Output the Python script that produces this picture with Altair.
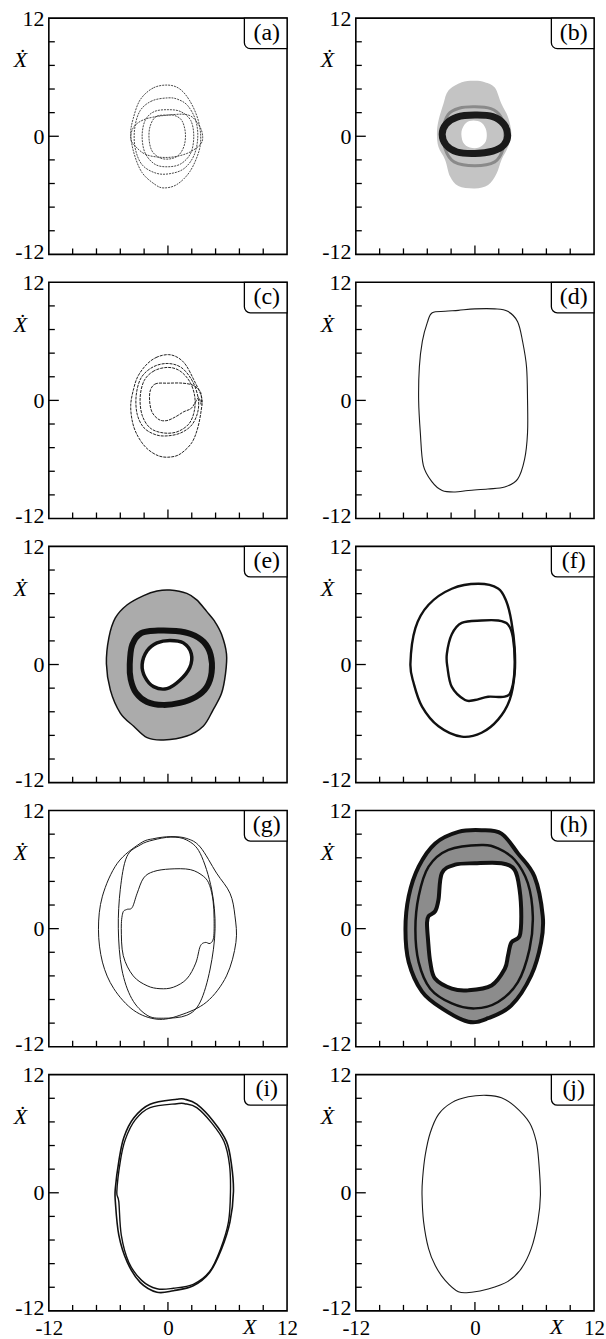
import altair as alt
import pandas as pd

SERIF = "Liberation Serif"
W, H = 239, 237
LIM = [-12, 12]
TICKS = [-9.6, -7.2, -4.8, -2.4, 2.4, 4.8, 7.2, 9.6]
MAJOR_TICKS = [0]
LABEL_VALUES = [-12, 0, 12]
BOX = {"x0": 7.7, "x1": 12, "y0": 8.9, "y1": 12}
LETTERS = ["(a)", "(b)", "(c)", "(d)", "(e)", "(f)", "(g)", "(h)", "(i)", "(j)"]

# ---- phase portraits, (X, Xdot) points along each orbit ----
A_LOOP1 = [(0, 5.2), (-1.5, 4.9), (-2.8, 3.7), (-3.5, 1.8), (-3.75, 0.2), (-3.4, -1.8),
           (-2.6, -3.7), (-1.3, -4.9), (-0.4, -5.25), (0.9, -4.9), (2.2, -3.6), (3.1, -1.6),
           (3.3, 0.0), (3.0, 1.8), (2.2, 3.6), (1.2, 4.8)]
A_LOOP2 = [(0, 3.9), (-1.6, 3.6), (-2.8, 2.6), (-3.35, 0.8), (-3.3, -1.2), (-2.6, -2.9),
           (-1.2, -3.75), (0.2, -3.8), (1.6, -3.3), (2.6, -2.0), (3.0, -0.2), (2.8, 1.6),
           (2.0, 3.1), (1.0, 3.75)]
A_LOOP3 = [(0, 2.7), (-1.4, 2.5), (-2.3, 1.6), (-2.6, 0.0), (-2.3, -1.7), (-1.3, -2.85),
           (0, -3.1), (1.3, -2.8), (2.3, -1.7), (2.6, 0.0), (2.3, 1.6), (1.3, 2.5)]
A_LOOP4 = [(0, 2.15), (-1.2, 2.0), (-1.8, 1.0), (-1.9, -0.3), (-1.6, -1.5), (-0.8, -2.2),
           (0.2, -2.3), (1.1, -1.9), (1.65, -0.9), (1.75, 0.4), (1.4, 1.6), (0.7, 2.1)]
A_LOOP5 = [(-3.75, -0.2), (-3.4, 1.0), (-2.1, 1.8), (0.5, 2.2), (2.2, 2.1), (3.2, 1.0),
           (3.5, -0.1), (3.2, -0.9), (1.9, -1.75), (0, -2.15), (-2.1, -1.9), (-3.3, -1.0)]

B_CLOUD = [(0, 5.65), (1.0, 5.5), (2.0, 4.95), (2.67, 3.3), (3.33, 1.95), (3.67, 0.27),
           (3.33, -1.1), (2.67, -2.4), (2.17, -3.8), (1.33, -4.95), (0, -5.3), (-1.67, -5.05),
           (-2.5, -4.1), (-3.0, -2.4), (-3.67, -1.1), (-3.83, 0.27), (-3.67, 1.6), (-3.17, 3.3),
           (-2.67, 4.65), (-1.33, 5.5)]
B_BAND = [(0, 3.0), (-1.6, 2.85), (-2.7, 2.2), (-3.2, 0.6), (-3.0, -1.3), (-2.1, -2.6),
          (0, -3.0), (2.0, -2.6), (2.8, -1.4), (3.0, 0.4), (2.6, 2.0), (1.6, 2.8)]
B_RING = [(-3.3, 0.2), (-2.9, 1.25), (-1.8, 1.95), (0, 2.15), (1.8, 2.0), (2.9, 1.25),
          (3.3, 0.1), (2.9, -0.9), (1.8, -1.5), (0, -1.75), (-1.8, -1.6), (-2.9, -0.9)]
B_HOLE = [(-0.15, 1.6), (-0.9, 1.35), (-1.35, 0.5), (-1.2, -0.6), (-0.5, -1.15), (0.4, -1.15),
          (1.1, -0.5), (1.15, 0.55), (0.7, 1.35)]

C_LOOP1 = [(0.05, 4.65), (-1.1, 4.4), (-2.1, 3.7), (-3.0, 2.5), (-3.45, 1.2), (-3.75, -0.5),
           (-3.55, -2.3), (-3.0, -3.7), (-2.1, -4.9), (-0.9, -5.65), (0.3, -5.75), (1.3, -5.4),
           (2.4, -4.3), (3.0, -2.8), (3.35, -1.0), (3.4, 0.3), (2.6, 2.1), (1.8, 3.6), (1.0, 4.35)]
C_LOOP2 = [(0, 3.75), (-1.5, 3.4), (-2.7, 2.3), (-3.2, 0.5), (-3.1, -1.4), (-2.4, -2.8),
           (-1.2, -3.5), (0, -3.6), (1.3, -3.3), (2.4, -2.5), (3.0, -1.2), (3.05, 0.2),
           (2.5, 1.9), (1.4, 3.3)]
C_LOOP3 = [(0, 3.35), (-1.4, 3.0), (-2.4, 2.0), (-2.8, 0.3), (-2.6, -1.5), (-1.8, -2.8),
           (-0.5, -3.3), (0.9, -3.2), (2.1, -2.4), (2.65, -1.1), (2.7, 0.4), (2.2, 1.9), (1.2, 3.0)]
C_LOOP4 = [(0, 1.75), (-1.2, 1.7), (-1.75, 1.1), (-1.85, 0.0), (-1.6, -1.2), (-0.9, -1.95),
           (-0.1, -2.05), (0.8, -1.65), (1.6, -1.15), (2.3, -0.85), (2.7, -0.3), (3.1, 0.3),
           (3.35, -0.4), (3.3, 0.8), (2.6, 1.5), (1.5, 1.75)]

D_LOOP = [(-4.3, 8.9), (-3.0, 9.05), (-1.67, 9.15), (0, 9.3), (2.0, 9.3), (3.3, 9.05),
          (4.3, 8.0), (4.8, 6.0), (5.2, 3.4), (5.3, 0.0), (5.3, -3.3), (5.0, -6.0), (4.3, -8.0),
          (3.0, -8.8), (1.3, -9.0), (-0.67, -9.15), (-2.0, -9.3), (-3.3, -9.15), (-4.3, -8.3),
          (-5.2, -6.6), (-5.5, -3.3), (-5.67, 0.0), (-5.6, 3.4), (-5.3, 6.0), (-4.8, 7.9)]

E_CLOUD = [(0.2, 7.57), (1.9, 7.23), (2.9, 6.57), (3.9, 5.4), (4.7, 4.4), (5.4, 3.07),
           (5.9, 1.07), (5.8, -0.93), (5.4, -2.93), (4.55, -4.6), (3.55, -6.27), (1.9, -7.27),
           (-0.45, -7.67), (-2.1, -7.43), (-3.45, -6.27), (-4.8, -4.93), (-5.8, -2.6),
           (-6.2, 0.07), (-5.95, 2.73), (-5.3, 4.73), (-4.1, 6.07), (-2.45, 7.0), (-1.1, 7.47)]
E_RING = [(-3.85, 0.0), (-3.6, 2.0), (-2.7, 3.2), (-1.0, 3.45), (0.8, 3.4), (2.3, 3.1),
          (3.6, 2.3), (4.3, 1.0), (4.4, -0.8), (3.9, -2.3), (2.8, -3.3), (1.2, -3.9),
          (-0.5, -4.1), (-2.1, -3.8), (-3.2, -2.9), (-3.75, -1.5)]
E_HOLE = [(-2.6, 0.0), (-2.1, 1.4), (-1.1, 2.2), (0.2, 2.45), (1.55, 2.2), (2.35, 1.1),
          (2.2, -0.3), (1.2, -1.6), (-0.1, -2.45), (-1.45, -2.25), (-2.3, -1.3)]

F_OUTER = [(0.33, 8.2), (-2.33, 7.7), (-4.67, 6.07), (-6.0, 3.7), (-6.5, 0.07), (-6.17, -1.9),
           (-5.33, -4.27), (-3.67, -6.27), (-1.33, -7.33), (0.67, -6.93), (2.33, -5.6),
           (3.5, -3.6), (4.0, -0.93), (4.0, 1.73), (3.67, 4.4), (3.17, 6.4), (2.33, 7.73)]
F_INNER = [(0.67, 4.47), (-1.33, 4.23), (-2.33, 3.07), (-2.83, 1.07), (-2.77, -0.27),
           (-2.33, -2.27), (-1.0, -3.6), (0, -3.6), (1.33, -3.27), (3.0, -3.27), (3.67, -2.6),
           (4.0, -0.27), (3.83, 2.73), (3.33, 4.07), (2.33, 4.47)]

G_LOOP1 = [(0.3, 9.35), (-1.4, 9.15), (-2.8, 8.66), (-5.1, 6.64), (-6.6, 3.3), (-7.0, -0.07),
           (-6.6, -3.4), (-5.45, -6.1), (-3.45, -8.3), (-1.1, -9.2), (1.2, -8.8), (3.9, -7.45),
           (5.9, -4.8), (6.85, -1.4), (6.75, 1.3), (6.25, 3.6), (4.9, 5.64), (3.25, 8.3), (1.9, 9.16)]
G_LOOP2 = [(1.9, 9.0), (0.3, 9.3), (-1.5, 9.0), (-2.8, 8.5), (-4.15, 7.3), (-4.8, 4.0),
           (-5.0, 0.0), (-4.65, -4.1), (-3.65, -7.1), (-2.1, -8.8), (-0.45, -9.1), (1.9, -8.8),
           (3.25, -7.45), (4.25, -4.1), (4.75, 0.0), (4.4, 4.0), (3.25, 7.65)]
G_LOOP3 = [(0.2, 6.06), (-1.45, 5.8), (-2.45, 5.15), (-3.1, 3.6), (-3.6, 2.15), (-4.15, 1.95),
           (-4.55, 1.6), (-4.7, 0.0), (-4.5, -2.75), (-3.5, -4.8), (-2.1, -5.8), (-0.8, -6.1),
           (0.55, -5.95), (1.9, -5.1), (2.8, -3.5), (3.25, -1.8), (3.75, -1.4), (4.25, -1.5),
           (4.6, -0.9), (4.65, 1.0), (4.55, 2.8), (4.2, 4.4), (3.6, 5.3), (2.25, 6.0)]

H_CLOUD = [(0.67, 10.0), (-1.67, 9.83), (-4.0, 8.66), (-5.67, 6.3), (-6.67, 3.3), (-7.0, -0.07),
           (-6.67, -3.4), (-5.33, -6.4), (-3.33, -8.1), (-0.67, -9.46), (1.33, -9.1),
           (3.67, -7.8), (5.67, -4.76), (6.67, -1.4), (6.83, 1.3), (6.0, 5.3), (4.33, 7.65),
           (2.67, 9.66)]
H_MID = [(0.67, 8.5), (-2.67, 8.0), (-4.67, 6.3), (-5.67, 3.3), (-6.0, -0.07), (-5.67, -3.4),
         (-4.5, -6.1), (-2.33, -7.6), (0, -8.1), (2.33, -7.45), (4.33, -5.44), (5.5, -2.08),
         (5.83, 1.27), (5.33, 4.63), (4.0, 7.0), (2.33, 8.15)]
H_HOLE = [(0, 6.64), (-2.0, 6.5), (-3.33, 5.64), (-3.67, 2.95), (-4.0, 1.78), (-4.67, 1.27),
          (-4.83, 0.6), (-4.73, -1.07), (-4.5, -3.4), (-4.0, -5.1), (-2.33, -6.1), (-0.67, -6.27),
          (1.67, -5.77), (3.0, -4.1), (3.33, -2.75), (3.67, -1.4), (4.5, -0.74), (4.67, 1.27),
          (4.5, 3.96), (4.0, 5.97), (2.67, 6.64)]

I_LOOP1 = [(0.9, 9.5), (-1.8, 9.0), (-3.45, 7.6), (-4.45, 5.6), (-4.95, 3.2), (-5.3, 0.46),
           (-5.3, -0.9), (-4.95, -4.3), (-4.1, -7.05), (-2.8, -9.1), (-1.1, -10.1), (0.55, -9.95),
           (2.55, -9.45), (4.2, -8.1), (5.4, -5.7), (6.25, -2.95), (6.6, 0.1), (6.4, 2.85),
           (5.9, 5.2), (4.55, 7.3), (2.9, 9.0), (1.7, 9.5)]
I_LOOP2 = [(0.9, 9.05), (-1.8, 8.65), (-3.3, 7.4), (-4.3, 5.4), (-4.8, 3.2), (-5.15, 0.1),
           (-4.95, -0.9), (-4.7, -4.3), (-3.95, -7.05), (-2.65, -8.9), (-1.1, -9.75), (0.55, -9.7),
           (2.55, -9.3), (4.2, -8.0), (5.3, -5.7), (6.1, -2.95), (6.3, 0.1), (6.2, 2.85),
           (5.65, 5.2), (4.4, 7.1), (2.9, 8.65), (1.7, 9.05)]

J_LOOP = [(1.17, 9.9), (-0.67, 9.75), (-2.33, 9.16), (-3.67, 7.97), (-4.5, 6.1), (-5.0, 3.87),
          (-5.27, 1.48), (-5.33, -0.22), (-5.17, -2.95), (-4.67, -5.68), (-4.0, -7.4),
          (-3.0, -8.9), (-1.67, -10.05), (-0.33, -10.1), (1.33, -9.78), (3.33, -9.0),
          (4.67, -7.7), (5.67, -5.68), (6.33, -2.95), (6.6, -0.22), (6.43, 3.19), (6.17, 5.24),
          (5.5, 7.12), (4.0, 8.8), (2.67, 9.66)]


def table(points):
    return pd.DataFrame({"x": [p[0] for p in points],
                         "y": [p[1] for p in points],
                         "i": list(range(len(points)))})


def xenc(field, bottom):
    scale = alt.Scale(domain=LIM, nice=False, zero=False)
    if not bottom:
        return alt.X(f"{field}:Q", scale=scale, axis=None)
    axis = alt.Axis(values=LABEL_VALUES, ticks=False, domain=False, grid=False,
                    labelExpr="'' + datum.value", labelFont=SERIF, labelFontSize=21,
                    labelColor="black", labelFlush=False, labelPadding=7, labelOverlap=False,
                    title="X", titleFont=SERIF, titleFontSize=22, titleFontStyle="italic",
                    titleFontWeight="normal", titleColor="black", titleX=201, titleY=23,
                    titleBaseline="alphabetic", titleAlign="center")
    return alt.X(f"{field}:Q", scale=scale, axis=axis)


def yenc(field):
    scale = alt.Scale(domain=LIM, nice=False, zero=False)
    axis = alt.Axis(values=LABEL_VALUES, ticks=False, domain=False, grid=False,
                    labelExpr="'' + datum.value", labelFont=SERIF, labelFontSize=22,
                    labelColor="black", labelPadding=5, labelOverlap=False,
                    labelOffset={"condition": {"test": "datum.value < 0", "value": -3},
                                 "value": 0},
                    title="Ẋ", titleFont=SERIF, titleFontSize=22, titleFontStyle="italic",
                    titleFontWeight="normal", titleColor="black", titleAngle=0,
                    titleX=-29, titleY=42, titleBaseline="middle", titleAlign="center")
    return alt.Y(f"{field}:Q", scale=scale, axis=axis)


def curve(points, bottom, width=1.0, color="#1a1a1a", dash=None):
    kw = dict(interpolate="cardinal-closed", color=color, strokeWidth=width)
    if dash:
        kw["strokeDash"] = dash
    return alt.Chart(table(points)).mark_line(**kw).encode(
        x=xenc("x", bottom), y=yenc("y"), order="i:Q")


def patch(points, bottom, fill):
    return alt.Chart(table(points)).mark_line(
        interpolate="cardinal-closed", fill=fill, color=fill, strokeOpacity=0
    ).encode(x=xenc("x", bottom), y=yenc("y"), order="i:Q")


def panel(letter, layers, bottom=False):
    minor = pd.DataFrame({"t": TICKS})
    major = pd.DataFrame({"t": MAJOR_TICKS})
    rule = dict(color="black", strokeWidth=1.3)
    xt_minor = alt.Chart(minor).mark_rule(**rule).encode(
        x=xenc("t", bottom), y=alt.value(H), y2=alt.value(H - 6))
    xt_major = alt.Chart(major).mark_rule(**rule).encode(
        x=xenc("t", bottom), y=alt.value(H), y2=alt.value(H - 9))
    yt_minor = alt.Chart(minor).mark_rule(**rule).encode(
        y=yenc("t"), x=alt.value(0), x2=alt.value(6))
    yt_major = alt.Chart(major).mark_rule(**rule).encode(
        y=yenc("t"), x=alt.value(0), x2=alt.value(10))
    box_df = pd.DataFrame([BOX])
    box = alt.Chart(box_df).mark_rect(
        fill="white", stroke="black", strokeWidth=1.3, cornerRadiusBottomLeft=6
    ).encode(x=xenc("x0", bottom), x2="x1", y=yenc("y0"), y2="y1")
    lab_df = pd.DataFrame({"tx": [(BOX["x0"] + BOX["x1"]) / 2 + 0.1],
                           "ty": [(BOX["y0"] + BOX["y1"]) / 2 + 0.05],
                           "s": [letter]})
    lab = alt.Chart(lab_df).mark_text(
        font=SERIF, fontSize=24, color="black", baseline="middle", align="center"
    ).encode(x=xenc("tx", bottom), y=yenc("ty"), text="s:N")
    return alt.layer(*layers, xt_minor, xt_major, yt_minor, yt_major, box, lab).properties(
        width=W, height=H)


pa = panel(LETTERS[0], [curve(c, False, 0.9, "#333333", [2, 1])
                        for c in (A_LOOP1, A_LOOP2, A_LOOP3, A_LOOP4, A_LOOP5)])
pb = panel(LETTERS[1], [patch(B_CLOUD, False, "#c4c4c4"),
                        curve(B_BAND, False, 3, "#8a8a8a"),
                        curve(B_RING, False, 7, "#1a1a1a"),
                        patch(B_HOLE, False, "white")])
pc = panel(LETTERS[2], [curve(c, False, 1.0, "#222222", [3, 1])
                        for c in (C_LOOP1, C_LOOP2, C_LOOP3, C_LOOP4)])
pd_ = panel(LETTERS[3], [curve(D_LOOP, False, 1.1)])
pe = panel(LETTERS[4], [patch(E_CLOUD, False, "#ababab"),
                        curve(E_CLOUD, False, 1.5, "#111111"),
                        curve(E_RING, False, 6, "#111111"),
                        patch(E_HOLE, False, "white"),
                        curve(E_HOLE, False, 3.5, "#111111")])
pf = panel(LETTERS[5], [curve(F_OUTER, False, 2.4, "#111111"),
                        curve(F_INNER, False, 2.4, "#111111")])
pg = panel(LETTERS[6], [curve(c, False, 1.0) for c in (G_LOOP1, G_LOOP2, G_LOOP3)])
ph = panel(LETTERS[7], [patch(H_CLOUD, False, "#8c8c8c"),
                        curve(H_CLOUD, False, 4, "#111111"),
                        curve(H_MID, False, 2.5, "#111111"),
                        patch(H_HOLE, False, "white"),
                        curve(H_HOLE, False, 4, "#111111")])
pi = panel(LETTERS[8], [curve(I_LOOP1, True, 1.6, "#111111"),
                        curve(I_LOOP2, True, 1.4, "#111111")], bottom=True)
pj = panel(LETTERS[9], [curve(J_LOOP, True, 1.1)], bottom=True)

chart = alt.concat(pa, pb, pc, pd_, pe, pf, pg, ph, pi, pj, columns=2,
                   spacing={"row": 28, "column": 69}, bounds="flush").properties(
    padding={"left": 12, "top": 4, "right": 0, "bottom": 0}
).configure_view(stroke="black", strokeWidth=1.6)

chart.save("out.html", embed_options={"renderer": "svg", "actions": False})
